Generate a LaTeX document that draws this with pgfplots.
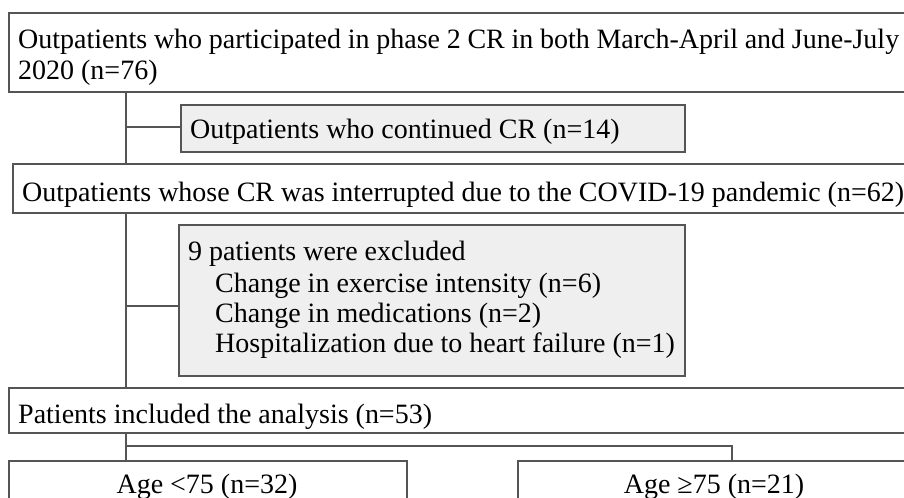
\documentclass[border=0pt]{standalone}
\usepackage{pgfplots}
\pgfplotsset{compat=1.18}
\usepackage{fontspec}
\setmainfont{Liberation Serif}
\definecolor{edge}{HTML}{555555}
\definecolor{greyfill}{HTML}{EFEFEF}
\tikzset{txt/.style={font=\fontsize{28.1}{31}\selectfont, inner sep=0pt, anchor=base west, text=black}}
\begin{document}
\begin{tikzpicture}
\useasboundingbox (0,0) rectangle (904bp,498bp);
\clip (0,0) rectangle (904bp,498bp);
\begin{axis}[at={(0,0)}, anchor=south west, width=904bp, height=498bp, scale only axis, hide axis,
  xmin=0, xmax=904, ymin=0, ymax=498, y dir=reverse, clip=false]
% boxes
\addplot[draw=edge, line width=1.2bp, fill=white] coordinates {(9,13) (920,13) (920,92) (9,92)} -- cycle;
\addplot[draw=edge, line width=1.2bp, fill=greyfill] coordinates {(181,105) (685,105) (685,152) (181,152)} -- cycle;
\addplot[draw=edge, line width=1.2bp, fill=white] coordinates {(13,164) (920,164) (920,213) (13,213)} -- cycle;
\addplot[draw=edge, line width=1.2bp, fill=greyfill] coordinates {(179,225) (685,225) (685,376) (179,376)} -- cycle;
\addplot[draw=edge, line width=1.2bp, fill=white] coordinates {(9,388) (920,388) (920,433) (9,433)} -- cycle;
\addplot[draw=edge, line width=1.2bp, fill=white] coordinates {(9,461) (407,461) (407,520) (9,520)} -- cycle;
\addplot[draw=edge, line width=1.2bp, fill=white] coordinates {(518,461) (920,461) (920,520) (518,520)} -- cycle;
% connectors
\addplot[draw=edge, line width=1.2bp] coordinates {(126,92) (126,164)};
\addplot[draw=edge, line width=1.2bp] coordinates {(126,127) (181,127)};
\addplot[draw=edge, line width=1.2bp] coordinates {(126,213) (126,388)};
\addplot[draw=edge, line width=1.2bp] coordinates {(126,306) (179,306)};
\addplot[draw=edge, line width=1.2bp] coordinates {(126,433) (126,461)};
\addplot[draw=edge, line width=1.2bp] coordinates {(126,446) (732,446) (732,461)};
% texts
\node[txt] at (axis cs:18,49) {\makebox[881bp][s]{Outpatients who participated in phase 2 CR in both March-April and June-July}};
\node[txt] at (axis cs:18,80) {2020 (n=76)};
\node[txt] at (axis cs:190,138) {Outpatients who continued CR (n=14)};
\node[txt] at (axis cs:22,201) {Outpatients whose CR was interrupted due to the COVID-19 pandemic (n=62)};
\node[txt] at (axis cs:188,260) {9 patients were excluded};
\node[txt] at (axis cs:215,292) {Change in exercise intensity (n=6)};
\node[txt] at (axis cs:215,322) {Change in medications (n=2)};
\node[txt] at (axis cs:215,352) {Hospitalization due to heart failure (n=1)};
\node[txt] at (axis cs:18,423) {Patients included the analysis (n=53)};
\node[txt, anchor=base] at (axis cs:207,493) {Age <75 (n=32)};
\node[txt, anchor=base] at (axis cs:714,493) {Age ≥75 (n=21)};
\end{axis}
\end{tikzpicture}
\end{document}
